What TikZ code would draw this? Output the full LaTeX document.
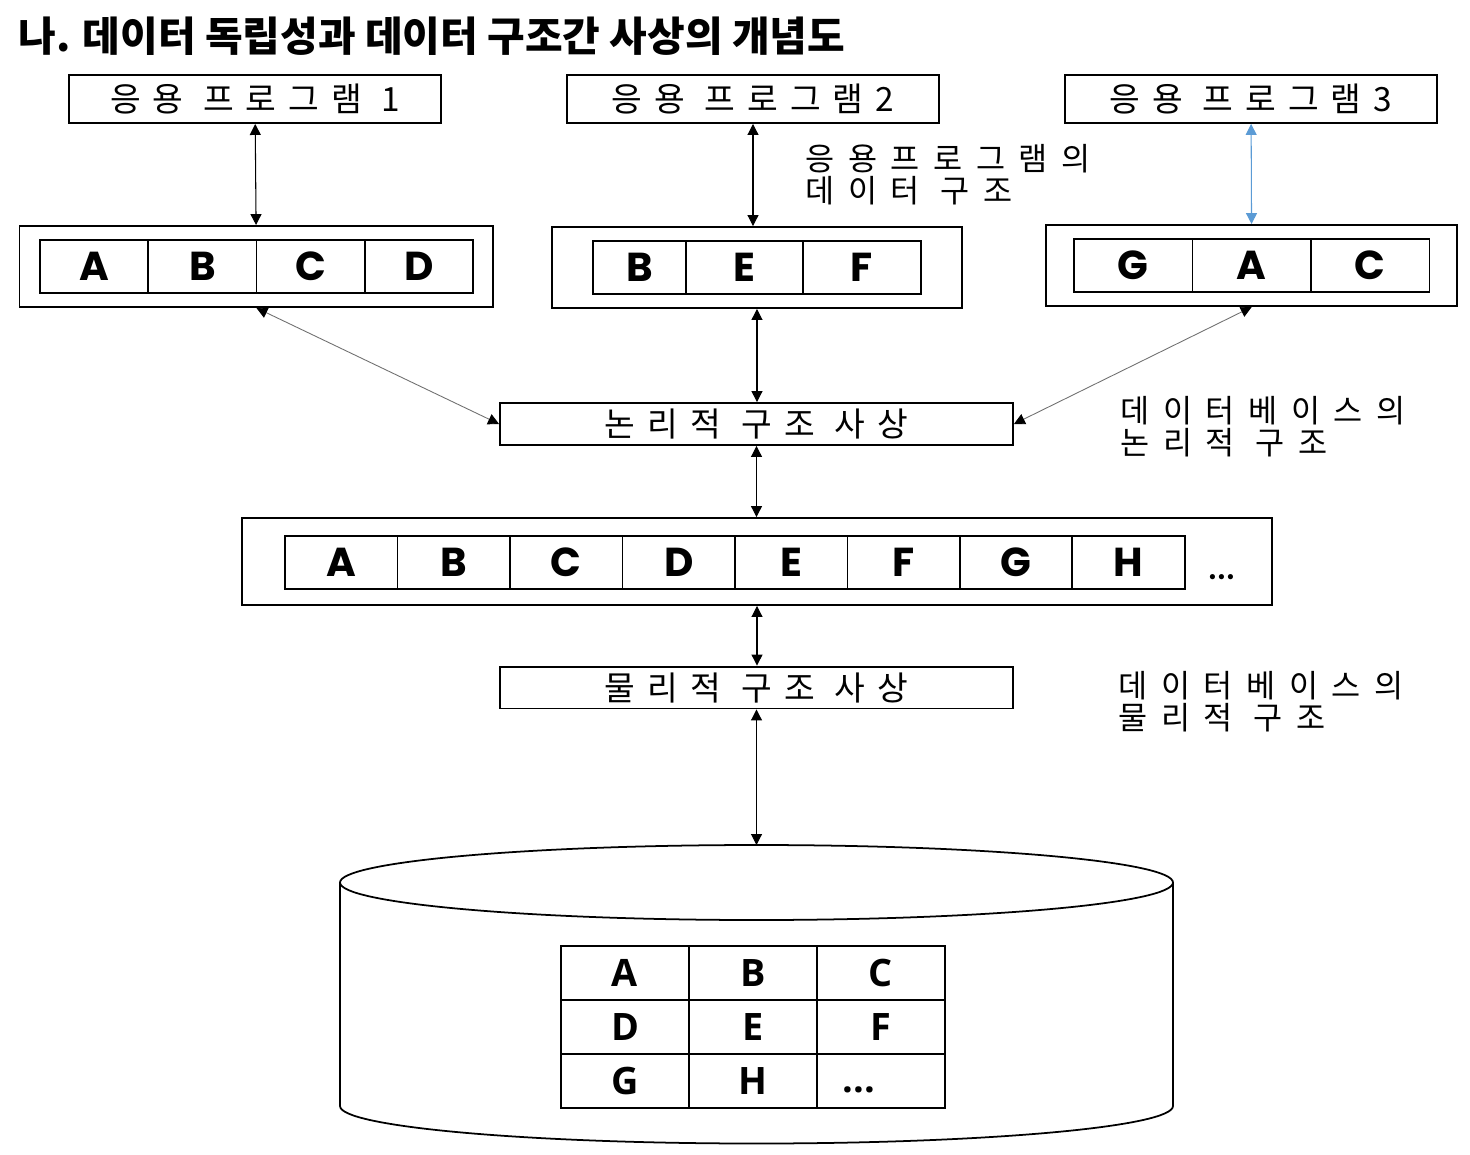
\documentclass[tikz,border=0pt]{standalone}
\usepackage{fontspec}
\usetikzlibrary{positioning, arrows.meta, fit}
\newfontfamily\kr{Noto Sans CJK KR}
\newfontfamily\krprog[LetterSpace=36]{Noto Sans CJK KR}
\newfontfamily\krnote[LetterSpace=43]{Noto Sans CJK KR}
\newfontfamily\krmap[LetterSpace=37]{Noto Sans CJK KR}
\newfontfamily\cellfont{Poppins}
\newfontfamily\tablefont{Open Sans}
\definecolor{linkblue}{HTML}{5B9BD5}
\definecolor{linkgray}{HTML}{707070}

\begin{document}
\begin{tikzpicture}[
    x=0.02cm, y=-0.02cm,
    progbox/.style={rectangle, draw, line width=1.1pt, minimum width=7.44cm,
                    minimum height=0.96cm, font=\krprog\fontsize{19}{22}\selectfont},
    cell/.style={rectangle, draw, line width=1pt, outer sep=0pt, minimum height=1.06cm,
                 font=\cellfont\bfseries\fontsize{23}{26}\selectfont},
    frame/.style={rectangle, draw, line width=1.1pt, inner ysep=0.28cm},
    mapbox/.style={rectangle, draw, line width=1.1pt, minimum width=10.26cm,
                   minimum height=0.8cm, font=\krmap\fontsize{19}{22}\selectfont},
    note/.style={anchor=north west, align=left, inner sep=0pt,
                 font=\krnote\fontsize{18}{18.3}\selectfont},
    dbcell/.style={rectangle, draw, line width=1pt, outer sep=0pt, minimum width=2.56cm,
                   minimum height=1.08cm, font=\tablefont\bfseries\fontsize{21.5}{24}\selectfont},
    arrow/.style={{Triangle[length=0.22cm, width=0.22cm]}-{Triangle[length=0.22cm, width=0.22cm]},
                  line width=0.6pt},
    diag/.style={{Triangle[length=0.22cm, width=0.22cm, color=black]}-{Triangle[length=0.22cm, width=0.22cm, color=black]},
                 draw=linkgray, line width=0.5pt},
  ]
  \useasboundingbox (0,0) rectangle (1470,1154);

  \node[anchor=west, inner sep=0pt, font=\kr\bfseries\fontsize{23.3}{26}\selectfont] (title) at (18,36)
    {나. 데이터 독립성과 데이터 구조간 사상의 개념도};

  \node[progbox] (prog1) at (255,99) {응용 프로그램 1};
  \node[progbox] (prog2) at (753,99) {응용 프로그램2};
  \node[progbox] (prog3) at (1251,99) {응용 프로그램3};

  \node[cell, minimum width=2.165cm] (a1) at (94.1,266.5) {A};
  \node[cell, minimum width=2.165cm, right=0pt of a1] (b1) {B};
  \node[cell, minimum width=2.165cm, right=0pt of b1] (c1) {C};
  \node[cell, minimum width=2.165cm, right=0pt of c1] (d1) {D};
  \node[frame, fit=(a1)(d1), inner xsep=0.41cm] (ds1) {};

  \node[cell, minimum width=1.86cm] (b2) at (639.5,267.5) {B};
  \node[cell, minimum width=2.34cm, right=0pt of b2] (e2) {E};
  \node[cell, minimum width=2.36cm, right=0pt of e2] (f2) {F};
  \node[frame, fit=(b2)(f2), inner xsep=0.82cm] (ds2) {};

  \node[cell, minimum width=2.37cm] (g3) at (1133.25,265.5) {G};
  \node[cell, minimum width=2.37cm, right=0pt of g3] (a3) {A};
  \node[cell, minimum width=2.37cm, right=0pt of a3] (c3) {C};
  \node[frame, fit=(g3)(c3), inner xsep=0.56cm] (ds3) {};

  \node[note] (appnote) at (805,144) {응용프로그램의\\데이터 구조};

  \node[mapbox] (lmap) at (756.5,424) {논리적 구조 사상};
  \node[note] (lognote) at (1120,396) {데이터베이스의\\논리적 구조};

  \node[frame, minimum width=20.6cm, minimum height=1.74cm, inner sep=0pt] (lrow) at (757,561.5) {};
  \node[cell, minimum width=2.25cm] (a4) at (341.25,562.5) {A};
  \node[cell, minimum width=2.25cm, right=0pt of a4] (b4) {B};
  \node[cell, minimum width=2.25cm, right=0pt of b4] (c4) {C};
  \node[cell, minimum width=2.25cm, right=0pt of c4] (d4) {D};
  \node[cell, minimum width=2.25cm, right=0pt of d4] (e4) {E};
  \node[cell, minimum width=2.25cm, right=0pt of e4] (f4) {F};
  \node[cell, minimum width=2.25cm, right=0pt of f4] (g4) {G};
  \node[cell, minimum width=2.25cm, right=0pt of g4] (h4) {H};
  \node[anchor=base, font=\cellfont\fontsize{24}{26}\selectfont] (more) at (1222,579) {...};

  \node[mapbox] (pmap) at (756.5,687.5) {물리적 구조 사상};
  \node[note] (physnote) at (1118,671) {데이터베이스의\\물리적 구조};

  \draw[line width=1pt] (340,882.5) -- (340,1106)
    arc[start angle=180, end angle=0, x radius=416.5, y radius=37.5] -- (1173,882.5);
  \draw[line width=1pt] (756.5,882.5) ellipse [x radius=416.5, y radius=37.5];
  \coordinate (dbtop) at (756.5,845);

  \node[dbcell] (ta) at (625,973) {A};
  \node[dbcell, right=0pt of ta] (tb) {B};
  \node[dbcell, right=0pt of tb] (tc) {C};
  \node[dbcell, below=0pt of ta] (td) {D};
  \node[dbcell, right=0pt of td] (te) {E};
  \node[dbcell, right=0pt of te] (tf) {F};
  \node[dbcell, below=0pt of td] (tg) {G};
  \node[dbcell, right=0pt of tg] (th) {H};
  \node[dbcell, right=0pt of th] (ti) {};
  \node[anchor=base, font=\tablefont\bfseries\fontsize{21.5}{24}\selectfont] (tmore) at (859,1092) {...};

  \draw[arrow] (prog1) -- (ds1);
  \draw[arrow] (prog2.south) -- (prog2.south |- ds2.north);
  \draw[arrow, linkblue] (prog3) -- (ds3);
  \draw[diag] (ds1.south) -- (lmap.west);
  \draw[arrow] (ds2.south) -- (ds2.south |- lmap.north);
  \draw[diag] (ds3.south) -- (lmap.east);
  \draw[arrow] (lmap.south) -- (lmap.south |- lrow.north);
  \draw[arrow] (lrow.south) -- (lrow.south |- pmap.north);
  \draw[arrow] (pmap.south) -- (dbtop);
\end{tikzpicture}
\end{document}
